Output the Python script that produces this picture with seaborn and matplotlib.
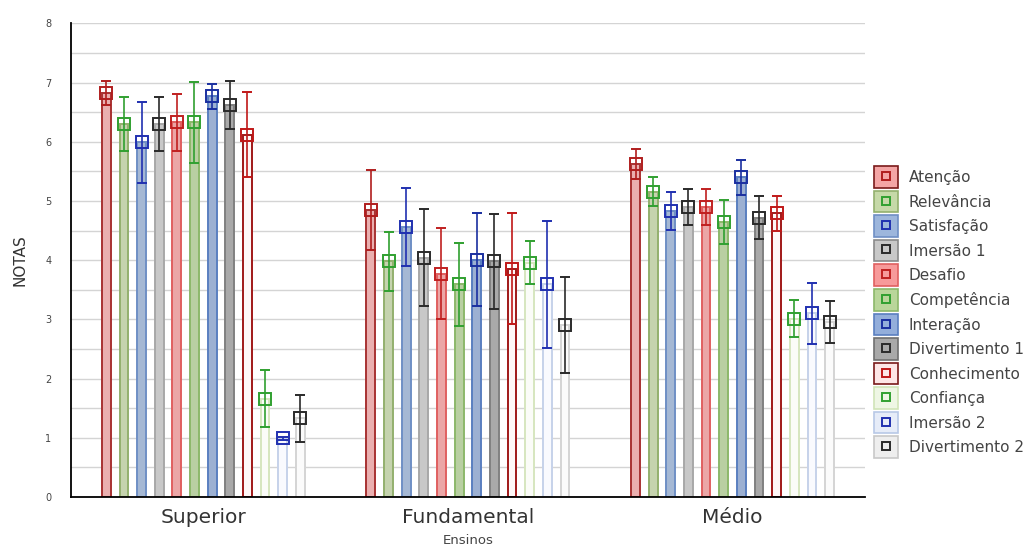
import pandas as pd
import numpy as np
import matplotlib
matplotlib.use('Agg')
import matplotlib.pyplot as plt
from matplotlib.patches import Patch, Rectangle
from matplotlib.lines import Line2D
from matplotlib.legend_handler import HandlerPatch
import seaborn as sns

# >> Data
ensinos = ['Superior', 'Fundamental', 'Médio']
itens = ['Atenção', 'Relevância', 'Satisfação', 'Imersão 1', 'Desafio', 'Competência',
         'Interação', 'Divertimento 1', 'Conhecimento', 'Confiança', 'Imersão 2', 'Divertimento 2']

media_superior = [6.82, 6.30, 5.99, 6.30, 6.33, 6.33, 6.77, 6.62, 6.12, 1.66, 0.99, 1.33]
media_fundamental = [4.85, 3.98, 4.56, 4.04, 3.77, 3.59, 4.01, 3.98, 3.86, 3.96, 3.59, 2.91]
media_medio = [5.63, 5.16, 4.83, 4.90, 4.90, 4.64, 5.40, 4.72, 4.79, 3.01, 3.10, 2.96]

erro_superior = [0.20, 0.45, 0.68, 0.45, 0.48, 0.68, 0.21, 0.41, 0.72, 0.48, 0.02, 0.40]
erro_fundamental = [0.68, 0.50, 0.66, 0.82, 0.77, 0.70, 0.78, 0.80, 0.93, 0.37, 1.08, 0.81]
erro_medio = [0.25, 0.25, 0.32, 0.30, 0.30, 0.37, 0.30, 0.37, 0.30, 0.31, 0.52, 0.35]

# fill / edge / marker colours per item
cor_fill = ['#f4a5a5', '#c6d9a8', '#9db6dc', '#c8c8c8', '#f79a9a', '#b9d69a',
            '#93aedb', '#a9a9a9', '#fff6f6', '#fbfdf7', '#f8faff', '#fbfbfb']
cor_borda = ['#a83232', '#93b06e', '#6f8fc5', '#a8a8a8', '#e06060', '#8cb86a',
             '#5a7fc0', '#808080', '#a01818', '#d6e6bf', '#c6d2ea', '#d4d4d4']
cor_marca = ['#b01e1e', '#30a030', '#2030b0', '#2a2a2a', '#c02020', '#30a030',
             '#1a2fa0', '#2a2a2a', '#c01818', '#30a030', '#2030b0', '#2a2a2a']
cor_legenda = ['#f4a5a5', '#c6d9a8', '#9db6dc', '#c8c8c8', '#f79a9a', '#b9d69a',
               '#93aedb', '#a9a9a9', '#fde6e6', '#eef6e4', '#e6ecf8', '#eeeeee']
cor_borda_leg = ['#7a1a1a', '#93b06e', '#6f8fc5', '#8a8a8a', '#e06060', '#8cb86a',
                 '#5a7fc0', '#707070', '#7a1a1a', '#d0e4b8', '#b8c8e6', '#c8c8c8']

rows = []
for ens, medias, erros in zip(ensinos, [media_superior, media_fundamental, media_medio],
                              [erro_superior, erro_fundamental, erro_medio]):
    for item, m, e in zip(itens, medias, erros):
        rows.append({'Ensino': ens, 'Item': item, 'Nota': m, 'Erro': e})
df = pd.DataFrame(rows)

sns.set_style('white')
plt.rcParams['font.family'] = ['DejaVu Sans']

fig = plt.figure(figsize=(10.35, 5.52), dpi=100)
ax = fig.add_axes([0.0686, 0.0996, 0.767, 0.858])

sns.barplot(data=df, x='Ensino', y='Nota', hue='Item', order=ensinos, hue_order=itens,
            palette=cor_fill, errorbar=None, gap=0.5, width=0.8, ax=ax, legend=False)

# bar edges, error bars and square markers
bar_containers = list(ax.containers)
for i, cont in enumerate(bar_containers):
    sub = df[df['Item'] == itens[i]].set_index('Ensino').loc[ensinos]
    xs = []
    for p in cont.patches:
        p.set_edgecolor(cor_borda[i])
        p.set_linewidth(1.4)
        xs.append(p.get_x() + p.get_width() / 2)
    ax.errorbar(xs, sub['Nota'].values, yerr=sub['Erro'].values, fmt='s', ms=8,
                mfc='none', mec=cor_marca[i], mew=1.4, ecolor=cor_marca[i],
                elinewidth=1.2, capsize=3.5, capthick=1.2, zorder=4)

ax.set_ylim(0, 8)
ax.set_xlim(-0.5, 2.5)
ax.set_yticks(range(0, 9))
ax.set_yticks(np.arange(0.5, 8, 0.5), minor=True)
ax.yaxis.grid(True, which='both', color='#d4d4d4', linewidth=1)
ax.set_axisbelow(True)
sns.despine(ax=ax, top=True, right=True)
for s in ['left', 'bottom']:
    ax.spines[s].set_color('black')
    ax.spines[s].set_linewidth(1.3)

ax.tick_params(axis='y', which='major', direction='in', length=4, labelsize=7,
               labelcolor='#444444', pad=14)
ax.tick_params(axis='y', which='minor', direction='in', length=3)
ax.tick_params(axis='x', direction='in', length=3, labelsize=14.5,
               labelcolor='#333333', pad=8)
ax.set_xlabel('Ensinos', fontsize=9.5, color='#444444', labelpad=5)
ax.set_ylabel('NOTAS', fontsize=11, color='#333333', labelpad=13)


def caixa(legend, orig_handle, xdescent, ydescent, width, height, fontsize):
    # taller legend swatch than the default box
    h = 15.5
    cy = -ydescent + height / 2
    return Rectangle((-xdescent, cy - h / 2), width, h)


handles = []
for i in range(len(itens)):
    handles.append((Patch(facecolor=cor_legenda[i], edgecolor=cor_borda_leg[i], linewidth=1.2),
                    Line2D([], [], marker='s', ls='none', ms=6, mfc='none',
                           mec=cor_marca[i], mew=1.4)))
leg = fig.legend(handles, itens, loc='upper left', bbox_to_anchor=(0.839, 0.703),
                 frameon=False, fontsize=11, handlelength=1.55, handleheight=1.0,
                 handletextpad=0.7, labelspacing=0.615, borderaxespad=0,
                 handler_map={Patch: HandlerPatch(patch_func=caixa)})
for t in leg.get_texts():
    t.set_color('#444444')

fig.savefig('out.png', dpi=100)
